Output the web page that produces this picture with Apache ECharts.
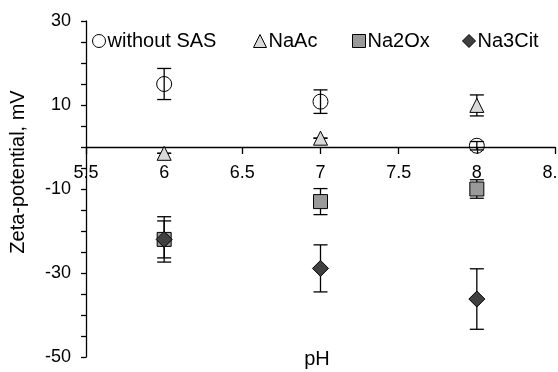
<!DOCTYPE html>
<html>
<head>
<meta charset="utf-8">
<script src="https://cdn.jsdelivr.net/npm/echarts@6/dist/echarts.min.js"></script>
<style>
  html, body { margin: 0; padding: 0; background: #fff; }
  #chart { width: 558px; height: 372px; }
</style>
</head>
<body>
<div id="chart"></div>
<script>
const phValues = [6, 7, 8];

const withoutSas = [15, 10.8, 0.3];
const withoutSasErr = [3.7, 2.8, 1];
const naAc = [-1.5, 2.1, 9.9];
const naAcErr = [0, 0, 2.5];
const na2Ox = [-22, -13, -10];
const na2OxErr = [4.4, 3.1, 2.2];
const na3Cit = [-22, -28.9, -36.2];
const na3CitErr = [5.4, 5.6, 7.2];

const xTicks = ['5.5', '6', '6.5', '7', '7.5', '8', '8.5'];

const FONT = '"Liberation Sans", Arial, sans-serif';

const chart = echarts.init(document.getElementById('chart'));

function points(values) {
  return phValues.map((x, i) => [x, values[i]]);
}

function errorSeries(values, errs) {
  return {
    type: 'custom',
    z: 1,
    silent: true,
    data: phValues.map((x, i) => [x, values[i] - errs[i], values[i] + errs[i]]),
    renderItem(params, api) {
      const lo = api.coord([api.value(0), api.value(1)]);
      const hi = api.coord([api.value(0), api.value(2)]);
      const w = 7;
      const style = { stroke: '#000', lineWidth: 1.3 };
      return {
        type: 'group',
        children: [
          { type: 'line', shape: { x1: lo[0], y1: lo[1], x2: hi[0], y2: hi[1] }, style },
          { type: 'line', shape: { x1: lo[0] - w, y1: lo[1], x2: lo[0] + w, y2: lo[1] }, style },
          { type: 'line', shape: { x1: hi[0] - w, y1: hi[1], x2: hi[0] + w, y2: hi[1] }, style },
        ],
      };
    },
  };
}

function markerSeries(name, values, symbol, size, fill) {
  return {
    name,
    type: 'scatter',
    z: 3,
    symbol,
    symbolSize: size,
    itemStyle: { color: fill, borderColor: '#000', borderWidth: 1, opacity: 1 },
    data: points(values),
  };
}

function legendAt(name, left) {
  return {
    data: [name],
    left,
    top: 31,
    itemWidth: 13,
    itemHeight: 13,
    itemGap: 0,
    padding: 0,
    selectedMode: false,
    itemStyle: { borderWidth: 1 },
    textStyle: { fontFamily: FONT, fontSize: 20, color: '#000', padding: [0, 0, 0, -3] },
  };
}

chart.setOption({
  animation: false,
  backgroundColor: '#fff',
  grid: { left: 86, right: 3, top: 21, bottom: 15, outerBoundsMode: 'none' },
  legend: [
    legendAt('without SAS', 92),
    legendAt('NaAc', 253),
    legendAt('Na2Ox', 352),
    legendAt('Na3Cit', 462),
  ],
  xAxis: {
    type: 'value',
    min: 5.5,
    max: 8.5,
    interval: 0.5,
    position: 'bottom',
    offset: -210,
    axisLine: { onZero: false, lineStyle: { color: '#000', width: 1.3 } },
    axisTick: { show: true, length: 7, lineStyle: { color: '#000', width: 1.3 } },
    axisLabel: {
      margin: 17,
      fontFamily: FONT,
      fontSize: 18,
      color: '#000',
      showMinLabel: true,
      showMaxLabel: true,
      formatter: (v) => xTicks[Math.round((v - 5.5) / 0.5)],
    },
    splitLine: { show: false },
  },
  yAxis: {
    type: 'value',
    min: -50,
    max: 30,
    interval: 20,
    axisLine: { show: true, onZero: false, lineStyle: { color: '#000', width: 1.3 } },
    axisTick: { show: true, length: 5, lineStyle: { color: '#000', width: 1.3 } },
    minorTick: { show: true, splitNumber: 4, length: 5, lineStyle: { color: '#000', width: 1.3 } },
    axisLabel: { margin: 15, fontFamily: FONT, fontSize: 18, color: '#000' },
    splitLine: { show: false },
  },
  graphic: [
    {
      type: 'text',
      x: 18,
      y: 172,
      rotation: Math.PI / 2,
      style: {
        text: 'Zeta-potential, mV',
        fontFamily: FONT,
        fontSize: 20,
        fill: '#000',
        textAlign: 'center',
        textVerticalAlign: 'middle',
      },
    },
    {
      type: 'text',
      x: 317,
      y: 359,
      style: {
        text: 'pH',
        fontFamily: FONT,
        fontSize: 20,
        fill: '#000',
        textAlign: 'center',
        textVerticalAlign: 'middle',
      },
    },
  ],
  series: [
    errorSeries(withoutSas, withoutSasErr),
    errorSeries(naAc, naAcErr),
    errorSeries(na2Ox, na2OxErr),
    errorSeries(na3Cit, na3CitErr),
    markerSeries('without SAS', withoutSas, 'circle', 15, 'rgba(255,255,255,0)'),
    markerSeries('NaAc', naAc, 'triangle', 14, '#d9d9d9'),
    markerSeries('Na2Ox', na2Ox, 'rect', 14, '#999999'),
    markerSeries('Na3Cit', na3Cit, 'diamond', 16, '#404040'),
  ],
});
</script>
</body>
</html>
